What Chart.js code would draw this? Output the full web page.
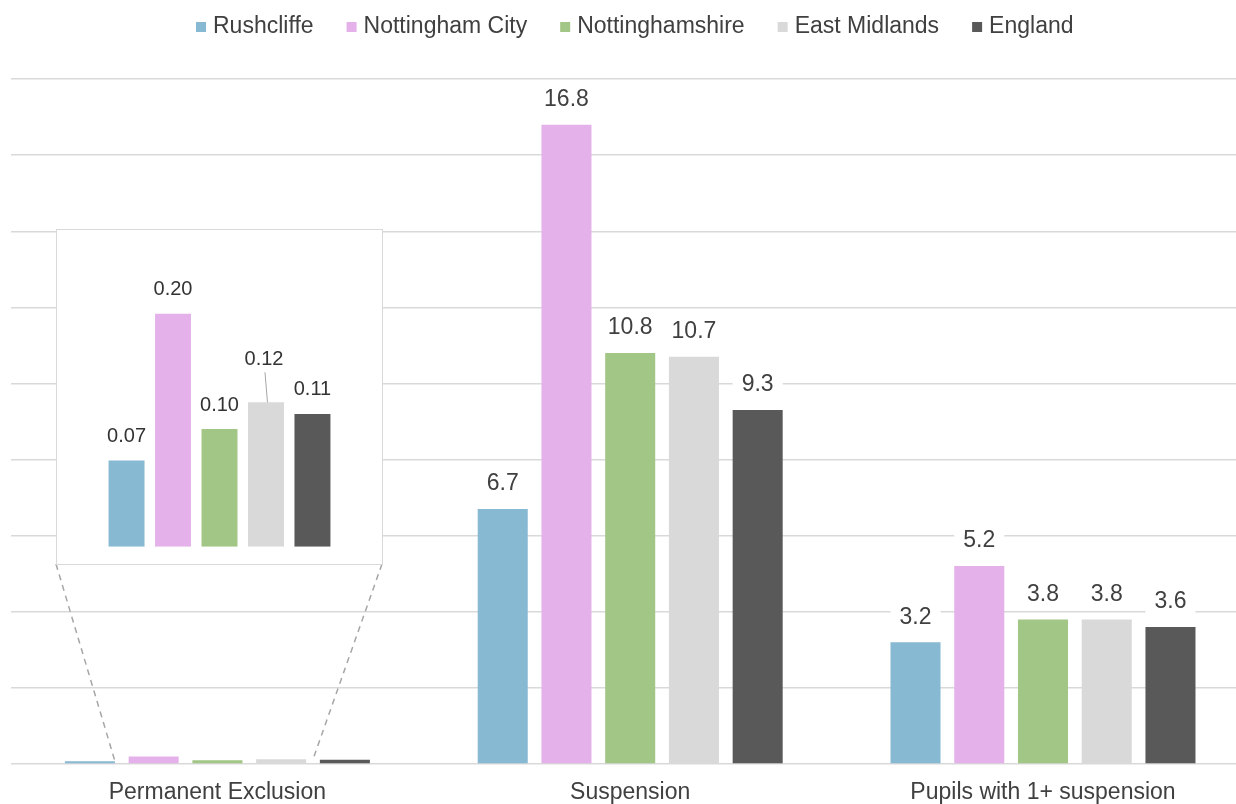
<!DOCTYPE html>
<html>
<head>
<meta charset="utf-8">
<script src="https://cdn.jsdelivr.net/npm/chart.js@4.4.1/dist/chart.umd.min.js"></script>
<style>
  html, body { margin: 0; padding: 0; background: #fff; overflow: hidden; }
  #wrap { position: relative; width: 1252px; height: 804px; }
  #inset { position: absolute; left: 56px; top: 229px; width: 327px; height: 336px; box-sizing: border-box; border: 1px solid #d9d9d9; background: #fff; }
  #inset canvas { display: block; }
</style>
</head>
<body>
<div id="wrap">
  <canvas id="mainChart" width="1252" height="804"></canvas>
  <div id="inset"><canvas id="insetChart" width="325" height="334"></canvas></div>
</div>
<script>
const categories = ['Permanent Exclusion', 'Suspension', 'Pupils with 1+ suspension'];
const seriesNames = ['Rushcliffe', 'Nottingham City', 'Nottinghamshire', 'East Midlands', 'England'];
const seriesColors = ['#87b9d3', '#e4b1ea', '#a2c686', '#d9d9d9', '#595959'];

// rates per 100 pupils
const rushcliffe = [0.074, 6.7, 3.2];
const nottinghamCity = [0.20, 16.8, 5.2];
const nottinghamshire = [0.101, 10.8, 3.8];
const eastMidlands = [0.124, 10.7, 3.8];
const england = [0.114, 9.3, 3.6];
const allSeries = [rushcliffe, nottinghamCity, nottinghamshire, eastMidlands, england];

const FONT = '"Liberation Sans", Arial, sans-serif';
const TEXT = '#404040';

// legend drawn by hand so it sits tight above the plot
const legendPlugin = {
  id: 'topLegend',
  afterDraw(chart) {
    const ctx = chart.ctx;
    ctx.save();
    ctx.font = '23px ' + FONT;
    ctx.textBaseline = 'middle';
    const box = 10, gap = 7, itemGap = 33;
    let x = 196;
    const y = 27;
    seriesNames.forEach((n, i) => {
      ctx.fillStyle = seriesColors[i];
      ctx.fillRect(x, y - box / 2, box, box);
      ctx.fillStyle = TEXT;
      ctx.fillText(n, x + box + gap, y);
      x += box + gap + ctx.measureText(n).width + itemGap;
    });
    ctx.restore();
  }
};

// value labels on a white patch (hides the gridline behind)
const barLabelPlugin = {
  id: 'barLabels',
  afterDatasetsDraw(chart) {
    const ctx = chart.ctx;
    ctx.save();
    ctx.font = '23px ' + FONT;
    ctx.textAlign = 'center';
    ctx.textBaseline = 'middle';
    chart.data.datasets.forEach((ds, i) => {
      chart.getDatasetMeta(i).data.forEach((el, j) => {
        if (j === 0) return; // shown in the zoom box instead
        const p = el.getProps(['x', 'y', 'width'], true);
        const cy = p.y - 25;
        ctx.fillStyle = '#fff';
        ctx.fillRect(p.x - p.width / 2, cy - 15, p.width, 30);
        ctx.fillStyle = TEXT;
        ctx.fillText(ds.data[j].toFixed(1), p.x, cy);
      });
    });
    ctx.restore();
  }
};

// dashed lines from the zoom box down to the tiny bars
const calloutPlugin = {
  id: 'callout',
  afterDraw(chart) {
    const box = document.getElementById('inset');
    const left = box.offsetLeft, right = box.offsetLeft + box.offsetWidth - 1;
    const bottom = box.offsetTop + box.offsetHeight - 1;
    const first = chart.getDatasetMeta(0).data[0].getProps(['x', 'y', 'width'], true);
    const grey = chart.getDatasetMeta(3).data[0].getProps(['x', 'y', 'width'], true);
    const dark = chart.getDatasetMeta(4).data[0].getProps(['x', 'y', 'width'], true);
    const ctx = chart.ctx;
    ctx.save();
    ctx.strokeStyle = '#a6a6a6';
    ctx.lineWidth = 1.5;
    ctx.setLineDash([6, 5]);
    ctx.beginPath();
    ctx.moveTo(left, bottom);
    ctx.lineTo(first.x + first.width / 2, first.y);
    ctx.moveTo(right, bottom);
    ctx.lineTo((grey.x + grey.width / 2 + dark.x - dark.width / 2) / 2, grey.y);
    ctx.stroke();
    ctx.restore();
  }
};

new Chart(document.getElementById('mainChart'), {
  type: 'bar',
  data: {
    labels: categories,
    datasets: seriesNames.map((n, i) => ({
      label: n,
      data: allSeries[i],
      backgroundColor: seriesColors[i],
      categoryPercentage: 0.772,
      barPercentage: 0.785
    }))
  },
  options: {
    responsive: false,
    animation: false,
    layout: { padding: { top: 79, left: 11, right: 2.6, bottom: 0 } },
    plugins: { legend: { display: false }, tooltip: { enabled: false } },
    scales: {
      x: {
        grid: { display: false, drawTicks: false },
        border: { display: false },
        ticks: { color: TEXT, font: { family: FONT, size: 23 }, padding: 15, maxRotation: 0 },
        afterFit(scale) { scale.height = 40; }
      },
      y: {
        min: 0,
        max: 18,
        ticks: { stepSize: 2, display: false },
        grid: { color: '#d9d9d9', lineWidth: 1.4, drawTicks: false },
        border: { display: false },
        afterFit(scale) { scale.width = 0; }
      }
    }
  },
  plugins: [legendPlugin, barLabelPlugin, calloutPlugin]
});

// zoomed view of the permanent exclusion group
const insetLabelPlugin = {
  id: 'insetLabels',
  afterDatasetsDraw(chart) {
    const ctx = chart.ctx;
    ctx.save();
    ctx.font = '20px ' + FONT;
    ctx.textAlign = 'center';
    ctx.textBaseline = 'middle';
    chart.data.datasets.forEach((ds, i) => {
      const p = chart.getDatasetMeta(i).data[0].getProps(['x', 'y'], true);
      const raised = i === 3;
      const cy = p.y - (raised ? 43 : 24);
      if (raised) {
        ctx.strokeStyle = '#a6a6a6';
        ctx.lineWidth = 1;
        ctx.beginPath();
        ctx.moveTo(p.x - 1, cy + 13);
        ctx.lineTo(p.x + 1.5, p.y);
        ctx.stroke();
      }
      ctx.fillStyle = '#333';
      ctx.fillText(ds.data[0].toFixed(2), p.x - (raised ? 2 : 0), cy);
    });
    ctx.restore();
  }
};

new Chart(document.getElementById('insetChart'), {
  type: 'bar',
  data: {
    labels: [categories[0]],
    datasets: seriesNames.map((n, i) => ({
      label: n,
      data: [allSeries[i][0]],
      backgroundColor: seriesColors[i],
      categoryPercentage: 0.715,
      barPercentage: 0.774
    }))
  },
  options: {
    responsive: false,
    animation: false,
    layout: { padding: { top: 25.5, bottom: 17.3, left: 0, right: 0 } },
    plugins: { legend: { display: false }, tooltip: { enabled: false } },
    scales: {
      x: { display: false },
      y: { display: false, min: 0, max: 0.25 }
    }
  },
  plugins: [insetLabelPlugin]
});
</script>
</body>
</html>
